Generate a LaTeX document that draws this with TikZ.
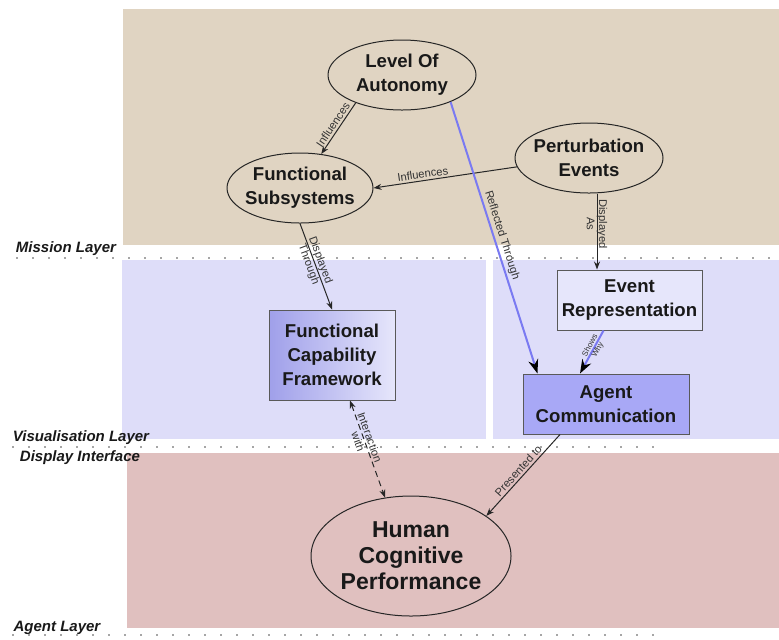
\documentclass[tikz,border=0pt]{standalone}
\usepackage{fontspec}
\setmainfont{Liberation Sans}
\usetikzlibrary{shapes.geometric,arrows.meta}
\definecolor{missionbg}{HTML}{E0D4C2}
\definecolor{visbg}{HTML}{DEDDF9}
\definecolor{agentbg}{HTML}{E0C0BF}
\definecolor{agentbox}{HTML}{A8A8F6}
\definecolor{eventbox}{HTML}{E6E6FB}
\definecolor{reflectblue}{HTML}{7A7AF2}

\begin{document}
\begin{tikzpicture}[
    x=0.5pt, y=-0.5pt,
    ell/.style={draw=black!85, line width=0.5pt, ellipse, inner xsep=-2pt, inner ysep=0pt,
      align=center, font=\bfseries\fontsize{9.3}{12}\selectfont, text=black!90},
    box/.style={draw=black!65, line width=0.5pt, rectangle, inner sep=1pt, align=center,
      minimum height=30pt, font=\bfseries\fontsize{9.3}{12}\selectfont, text=black!90},
    lbl/.style={font=\fontsize{5.6}{6.2}\selectfont, text=black!80, inner sep=1pt, align=center},
    layer/.style={font=\bfseries\itshape\fontsize{7.5}{9}\selectfont, text=black!90},
    dots/.style={gray!70, line width=1pt, dash pattern=on 1pt off 7pt},
    link/.style={draw=black!85, line width=0.5pt, -{Stealth[length=4pt,width=3pt]}},
    bluelink/.style={draw=reflectblue, line width=1pt, -{Stealth[black,length=7pt,width=5pt]}}]
 \useasboundingbox (0,0) rectangle (779,639);
 % layers
 \fill[missionbg] (123,9) rectangle (779,245);
 \fill[visbg] (122,260) rectangle (486,439);
 \fill[visbg] (493,260) rectangle (779,439);
 \fill[agentbg] (127,453) rectangle (779,628);
 \draw[dots] (16,258) -- (779,258);
 \draw[dots] (12,447) -- (662,447);
 \draw[dots] (12,635) -- (666,635);
 \node[layer] (mission) at (66,249) {Mission Layer};
 \node[layer] (vis) at (81,438) {Visualisation Layer};
 \node[layer] (display) at (80,458) {Display Interface};
 \node[layer] (agent) at (57,628) {Agent Layer};
 % concepts
 \node[ell, minimum width=74pt, minimum height=35pt] (loa) at (402,75) {Level Of\\Autonomy};
 \node[ell, minimum width=73pt, minimum height=35pt] (fs) at (300,188) {Functional\\Subsystems};
 \node[ell, minimum width=74pt, minimum height=35pt] (pe) at (589,158) {Perturbation\\Events};
 \node[box, fill=eventbox, minimum width=72.5pt] (er) at (629.5,300) {Event\\Representation};
 \node[box, left color=agentbox!95!black, right color=eventbox, minimum width=63pt,
   minimum height=45pt] (fcf) at (332,355) {Functional\\Capability\\Framework};
 \node[box, fill=agentbox, minimum width=83pt] (ac) at (606,404) {Agent\\Communication};
 \node[ell, minimum width=100pt, minimum height=60pt,
   font=\bfseries\fontsize{11.5}{13}\selectfont] (hcp) at (411,556) {Human\\Cognitive\\Performance};
 % links
 \draw[link] (loa.211) -- node[lbl, sloped, above] {Influences} (fs.58);
 \draw[link] (pe.187) -- node[lbl, sloped, above, pos=0.65] {Influences} (fs.east);
 \draw[bluelink] (loa.331) -- node[lbl, sloped, above] {Reflected Through} (ac.156);
 \draw[link] ([xshift=4pt]pe.south) -- node[lbl, rotate=-90, pos=0.4] {Displayed\\As}
   ([xshift=4pt]pe.south |- er.north);
 \draw[link] (fs.south) -- node[lbl, sloped, pos=0.45] {Displayed\\Through} (fcf.north);
 \draw[bluelink] ([xshift=-13pt]er.south) -- node[lbl, sloped, pos=0.4,
   font=\fontsize{4}{4.4}\selectfont] {Shows\\Why} ([xshift=-13pt]ac.north);
 \draw[link, dash pattern=on 3pt off 2pt, {Stealth[length=4pt,width=3pt]}-{Stealth[length=4pt,width=3pt]}]
   ([xshift=9pt]fcf.south) -- node[lbl, sloped, pos=0.4] {Interaction\\with} (hcp.114);
 \draw[link] ([xshift=-23pt]ac.south) -- node[lbl, sloped, above] {Presented to} (hcp.28);
\end{tikzpicture}
\end{document}
